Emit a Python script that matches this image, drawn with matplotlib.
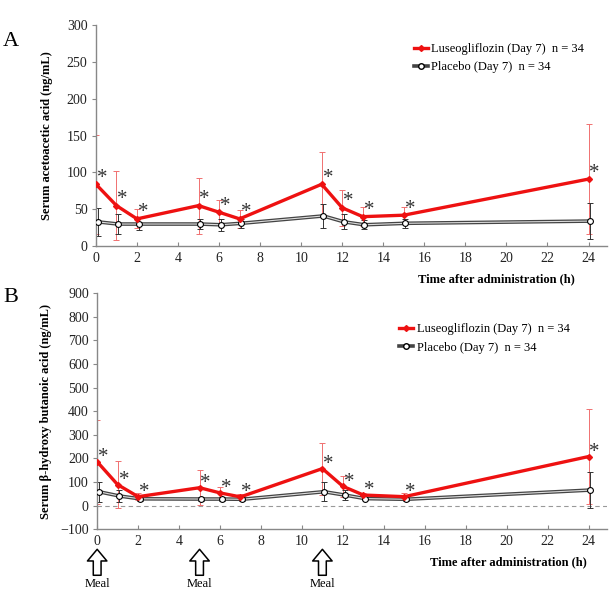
import numpy as np
import matplotlib
matplotlib.use('Agg')
import matplotlib.pyplot as plt

plt.rcParams['font.family'] = ['Liberation Serif', 'DejaVu Serif']

# -----------------------------
# Data
# -----------------------------
times = [0, 1, 2, 5, 6, 7, 11, 12, 13, 15, 24]
meal_times = [0, 5, 11]

# Panel A: serum acetoacetic acid (ng/mL)
aca_luseo = [84, 55, 37, 55, 46, 37, 84, 52, 40, 42, 91]
aca_luseo_sd = [67, 47, 13, 38, 17, 12, 44, 24, 13, 11, 75]
aca_plac = [33, 30, 30, 30, 29, 31, 41, 33, 29, 31, 34]
aca_plac_sd = [19, 13, 8, 7, 8, 6, 16, 10, 6, 6, 24]

# Panel B: serum beta-hydroxy butanoic acid (ng/mL)
bha_luseo = [186, 89, 38, 76, 54, 37, 157, 82, 45, 38, 208]
bha_luseo_sd = [177, 99, 15, 75, 24, 12, 110, 45, 10, 15, 202]
bha_plac = [59, 41, 29, 28, 28, 27, 59, 45, 30, 27, 66]
bha_plac_sd = [42, 25, 8, 10, 8, 8, 40, 20, 7, 8, 78]

label_luseo = 'Luseogliflozin (Day 7)  n = 34'
label_plac = 'Placebo (Day 7)  n = 34'

fig = plt.figure(figsize=(6.15, 5.96), dpi=100)
axA = fig.add_axes([0.156, 0.587, 0.831, 0.371])
axB = fig.add_axes([0.158, 0.112, 0.829, 0.396])

t = np.array(times)
shift = 0.08


def draw_panel(ax, lus, lus_sd, plc, plc_sd, star_dy):
    ax.errorbar(t, lus, yerr=lus_sd, fmt='none', ecolor='#f07070',
                elinewidth=0.7, capsize=2, capthick=0.7, zorder=2)
    ax.errorbar(t + shift, plc, yerr=plc_sd, fmt='none', ecolor='#333333',
                elinewidth=0.7, capsize=2, capthick=0.7, zorder=2)
    # placebo: double line look
    ax.plot(t + shift, plc, color='#444444', lw=2.6, zorder=3)
    ax.plot(t + shift, plc, color='#dddddd', lw=0.8, zorder=3.5)
    ax.plot(t + shift, plc, ls='none', marker='o', ms=4.2,
            mfc='white', mec='black', mew=0.8, zorder=4)
    ax.plot(t, lus, color='#ee1111', lw=2.4, marker='D', ms=3,
            mfc='#ee1111', mec='#ee1111', zorder=5)
    for x, y in zip(t, lus):
        ax.text(x + 0.3, y + star_dy, '*', fontsize=15, color='#333333',
                ha='center', va='center', zorder=6)

    # legend entries drawn as proxies
    h1, = ax.plot([], [], color='#ee1111', lw=2.4, marker='D', ms=3)
    h2, = ax.plot([], [], color='#444444', lw=2.6, marker='o', ms=4,
                  mfc='white', mec='black')
    return h1, h2


def style_axes(ax, ymin, ymax, step):
    ax.set_xlim(0, 24.9)
    ax.set_ylim(ymin, ymax)
    ax.set_xticks(range(0, 25, 2))
    ax.set_yticks(np.arange(ymin, ymax + 1, step))
    for s in ['top', 'right']:
        ax.spines[s].set_visible(False)
    for s in ['left', 'bottom']:
        ax.spines[s].set_color('#888888')
        ax.spines[s].set_linewidth(1.0)
    ax.tick_params(axis='x', direction='in', length=3, color='#888888',
                   labelsize=10, pad=4, labelcolor='#222222')
    ax.tick_params(axis='y', direction='out', length=3, color='#888888',
                   labelsize=10, pad=3, labelcolor='#222222')


# Panel A
h1, h2 = draw_panel(axA, aca_luseo, aca_luseo_sd, aca_plac, aca_plac_sd, 8)
style_axes(axA, 0, 300, 50)
axA.set_ylabel('Serum acetoacetic acid (ng/mL)', fontsize=9,
               fontweight='bold', labelpad=10)
axA.text(0.937, -0.15, 'Time after administration (h)', transform=axA.transAxes,
         ha='right', va='center', fontsize=9, fontweight='bold')
legA = axA.legend([h1, h2], [label_luseo, label_plac], loc='upper left',
                  bbox_to_anchor=(0.6, 0.97), frameon=False, fontsize=9,
                  handlelength=1.1, handletextpad=0.3, labelspacing=0.5)
fig.text(0.005, 0.93, 'A', fontsize=16, va='center')

# Panel B
h1, h2 = draw_panel(axB, bha_luseo, bha_luseo_sd, bha_plac, bha_plac_sd, 18)
axB.axhline(0, color='#999999', lw=0.8, ls=(0, (4, 3)), zorder=1)
style_axes(axB, -100, 900, 100)
axB.set_ylabel('Serum β-hydroxy butanoic acid (ng/mL)', fontsize=9,
               fontweight='bold', labelpad=6)
axB.text(0.96, -0.14, 'Time after administration (h)', transform=axB.transAxes,
         ha='right', va='center', fontsize=9, fontweight='bold')
legB = axB.legend([h1, h2], [label_luseo, label_plac], loc='upper left',
                  bbox_to_anchor=(0.57, 0.92), frameon=False, fontsize=9,
                  handlelength=1.1, handletextpad=0.3, labelspacing=0.5)
fig.text(0.005, 0.50, 'B', fontsize=16, va='center')

# Meal arrows
trans = axB.get_xaxis_transform()
for m in meal_times:
    axB.annotate('', xy=(m, -0.085), xytext=(m, -0.195), xycoords=trans,
                 annotation_clip=False,
                 arrowprops=dict(arrowstyle='simple,head_length=0.6,head_width=1.0,tail_width=0.4',
                                 fc='white', ec='black', lw=1.1,
                                 mutation_scale=14, shrinkA=0, shrinkB=0))
    axB.text(m, -0.23, 'Meal', transform=trans, ha='center', va='center',
             fontsize=9)

fig.savefig('out.png', dpi=100)
